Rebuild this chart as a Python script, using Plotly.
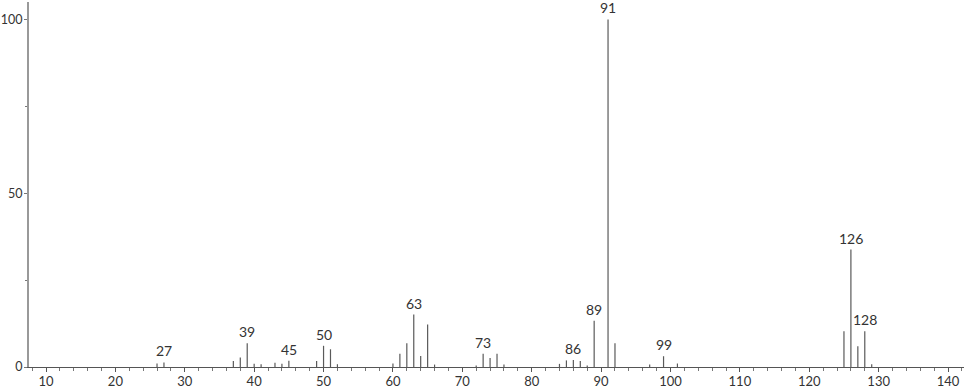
import plotly.graph_objects as go

mz = [26, 27, 37, 38, 39, 40, 41, 43, 44, 45, 49, 50, 51, 52,
      60, 61, 62, 63, 64, 65, 66, 72, 73, 74, 75, 76,
      84, 85, 86, 87, 88, 89, 91, 92, 97, 99, 101,
      125, 126, 127, 128, 129]
intensity = [1.0, 1.3, 1.7, 2.7, 6.8, 0.9, 0.8, 1.2, 0.9, 1.8, 1.7, 6.1, 5.1, 0.8,
             1.0, 3.8, 6.8, 15.1, 3.2, 12.2, 0.7, 0.4, 3.8, 2.6, 3.8, 0.7,
             0.9, 1.9, 2.0, 1.7, 0.4, 13.3, 100.0, 6.8, 0.7, 3.1, 1.0,
             10.3, 33.8, 6.0, 10.3, 0.8]
labelled = [27, 39, 45, 50, 63, 73, 86, 89, 91, 99, 126, 128]

xs, ys = [], []
for m, v in zip(mz, intensity):
    xs += [m, m, None]
    ys += [0, v, None]

fig = go.Figure()
fig.add_trace(go.Scatter(x=xs, y=ys, mode="lines",
                         line=dict(color="#5a5a5a", width=1.2),
                         hoverinfo="skip", showlegend=False))

font = dict(family="Lato, Open Sans, sans-serif", size=14, color="#333333")
tfont = dict(family="Lato, Open Sans, sans-serif", size=13, color="#333333")
yfont = dict(family="Lato, Open Sans, sans-serif", size=12.5, color="#333333")
for m, v in zip(mz, intensity):
    if m in labelled:
        fig.add_annotation(x=m, y=v, text=str(m), showarrow=False,
                           yanchor="bottom", yshift=1, font=font)

fig.update_layout(
    width=966, height=389,
    margin=dict(l=29, r=2, t=2, b=22, autoexpand=False),
    plot_bgcolor="white", paper_bgcolor="white",
    font=font,
)
fig.update_xaxes(range=[7.55, 142.3], showgrid=False, zeroline=False,
                 automargin=False,
                 showline=True, linecolor="#555555", linewidth=1,
                 ticks="outside", ticklen=4, tickcolor="#555555",
                 tick0=10, dtick=10, tickfont=tfont, ticklabelstandoff=-2,
                 minor=dict(ticks="outside", ticklen=3, dtick=2, tick0=0,
                            tickcolor="#777777", showgrid=False))
fig.update_yaxes(range=[0, 105], showgrid=False, zeroline=False,
                 automargin=False,
                 showline=True, linecolor="#999999", linewidth=2,
                 ticks="outside", ticklen=3, tickcolor="#777777",
                 tick0=0, dtick=50, tickfont=yfont, ticklabelstandoff=-1,
                 minor=dict(ticks="outside", ticklen=2, dtick=25,
                            tickcolor="#777777", showgrid=False))

fig.write_html("out.html")
